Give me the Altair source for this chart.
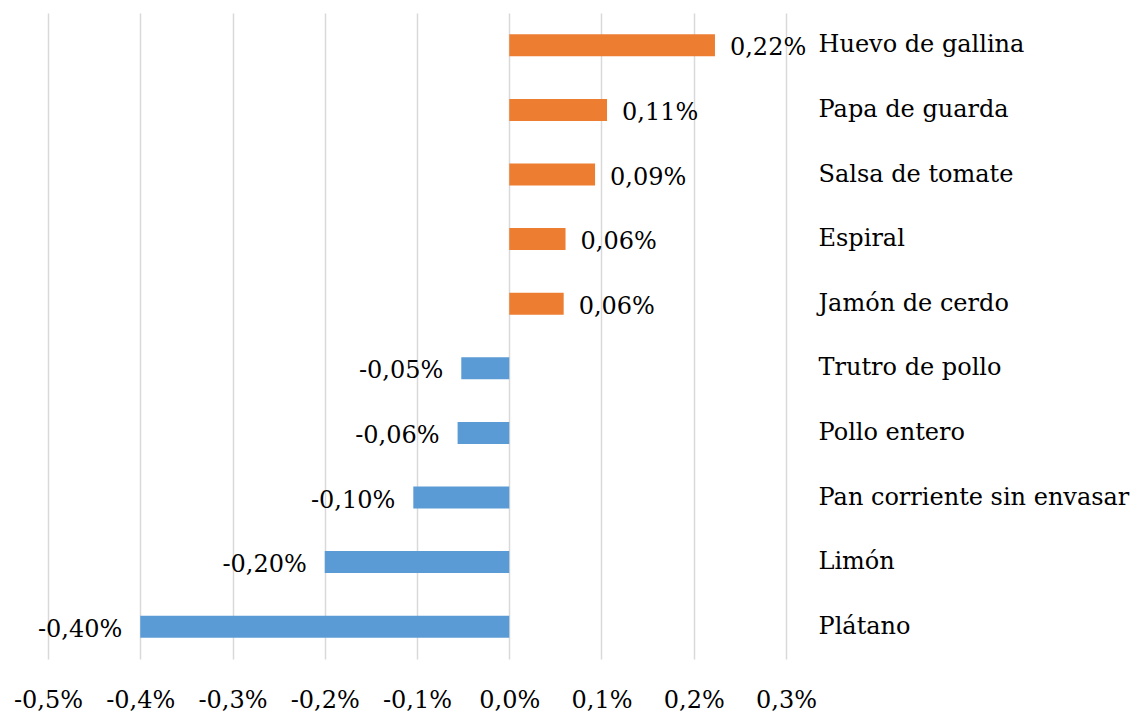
import altair as alt
import pandas as pd

categories = ["Huevo de gallina", "Papa de guarda", "Salsa de tomate", "Espiral",
              "Jamón de cerdo", "Trutro de pollo", "Pollo entero",
              "Pan corriente sin envasar", "Limón", "Plátano"]
values = [0.223, 0.106, 0.093, 0.061, 0.059, -0.052, -0.056, -0.104, -0.200, -0.400]
value_labels = ["0,22%", "0,11%", "0,09%", "0,06%", "0,06%", "-0,05%", "-0,06%",
                "-0,10%", "-0,20%", "-0,40%"]
tick_values = [-0.5, -0.4, -0.3, -0.2, -0.1, 0.0, 0.1, 0.2, 0.3]

df = pd.DataFrame({"cat": categories, "val": values, "lab": value_labels})
df["sign"] = ["pos" if v >= 0 else "neg" for v in values]

FONT = "DejaVu Serif"
FS = 24

y = alt.Y("cat:N", sort=categories, title=None,
          scale=alt.Scale(paddingInner=0.66, paddingOuter=0.33),
          axis=alt.Axis(orient="right", domain=False, ticks=False, labelPadding=32,
                        labelAlign="left", labelFont=FONT, labelFontSize=FS,
                        labelColor="black", grid=False, labelLimit=400))
x = alt.X("val:Q", title=None,
          scale=alt.Scale(domain=[-0.5, 0.3], nice=False, zero=False),
          axis=alt.Axis(values=tick_values, domain=False, ticks=False,
                        labelExpr="(datum.value < -0.00001 ? '-' : '') + '0,' + round(abs(datum.value) * 10) + '%'",
                        labelOverlap=False, labelFlush=False,
                        labelFont=FONT, labelFontSize=FS, labelColor="black",
                        labelPadding=29, grid=True, gridColor="#d9d9d9", gridWidth=1.5))

base = alt.Chart(df)
bars = base.mark_bar().encode(
    x=x, y=y,
    color=alt.Color("sign:N", scale=alt.Scale(domain=["pos", "neg"],
                                              range=["#ED7D31", "#5B9BD5"]), legend=None))
pos_text = base.transform_filter("datum.val >= 0").mark_text(
    align="left", baseline="middle", dx=15, dy=3, font=FONT, fontSize=FS, color="black"
).encode(x="val:Q", y=alt.Y("cat:N", sort=categories), text="lab:N")
neg_text = base.transform_filter("datum.val < 0").mark_text(
    align="right", baseline="middle", dx=-18, dy=3, font=FONT, fontSize=FS, color="black"
).encode(x="val:Q", y=alt.Y("cat:N", sort=categories), text="lab:N")

chart = alt.layer(bars, pos_text, neg_text).properties(
    width=738, height=646,
    autosize=alt.AutoSizeParams(type="none"),
    padding={"left": 40, "top": 5, "right": 354, "bottom": 54},
).configure_view(stroke=None)

chart.save("out.html", embed_options={"renderer": "svg", "actions": False})
